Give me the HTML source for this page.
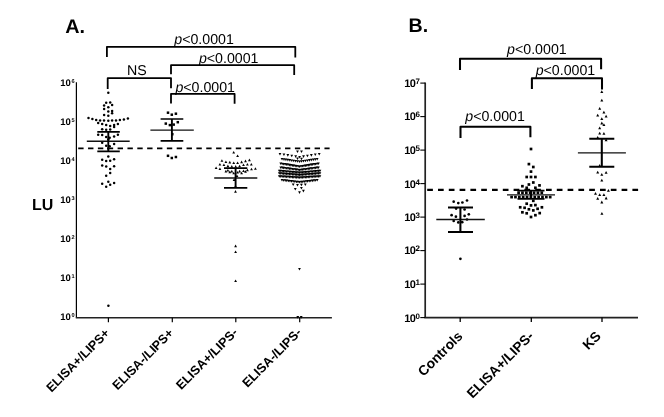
<!DOCTYPE html>
<html><head><meta charset="utf-8"><title>Figure</title>
<style>html,body{margin:0;padding:0;background:#fff}svg{display:block}text{font-family:"Liberation Sans",Arial,sans-serif;fill:#000;text-rendering:geometricPrecision}</style></head><body>
<svg width="664" height="417" viewBox="0 0 664 417">
<rect width="664" height="417" fill="#fff"/>
<text x="65.2" y="33.1" font-size="19.8" font-weight="bold">A.</text>
<text x="408.5" y="31.8" font-size="19.6" font-weight="bold">B.</text>
<text x="31.9" y="210" font-size="16" font-weight="bold">LU</text>
<path d="M106.9,56.9V46.85H295.3V57.6" fill="none" stroke="#000" stroke-width="1.8" stroke-linejoin="round"/>
<path d="M171,74.3V65.2H294.2V75.1" fill="none" stroke="#000" stroke-width="1.8" stroke-linejoin="round"/>
<path d="M107.7,89V78.1H171V88.2" fill="none" stroke="#000" stroke-width="1.8" stroke-linejoin="round"/>
<path d="M171,103.5V93.85H234.6V103.7" fill="none" stroke="#000" stroke-width="1.8" stroke-linejoin="round"/>
<path d="M460,69.9V58.75H601.1V69.2" fill="none" stroke="#000" stroke-width="2.05" stroke-linejoin="round"/>
<path d="M531.9,89V78.3H602V89.6" fill="none" stroke="#000" stroke-width="2.05" stroke-linejoin="round"/>
<path d="M460.5,138V126.7H530.4V137.3" fill="none" stroke="#000" stroke-width="2.05" stroke-linejoin="round"/>
<text x="174.3" y="44" font-size="14.2"><tspan font-style="italic">p</tspan>&lt;0.0001</text>
<text x="198.9" y="63" font-size="14.2"><tspan font-style="italic">p</tspan>&lt;0.0001</text>
<text x="175.4" y="92" font-size="14.2"><tspan font-style="italic">p</tspan>&lt;0.0001</text>
<text x="507.1" y="54" font-size="14.2"><tspan font-style="italic">p</tspan>&lt;0.0001</text>
<text x="535.7" y="75" font-size="14.2"><tspan font-style="italic">p</tspan>&lt;0.0001</text>
<text x="465.3" y="121" font-size="14.2"><tspan font-style="italic">p</tspan>&lt;0.0001</text>
<text x="127.1" y="75" font-size="14.2">NS</text>
<path d="M76.4,82.3V317.7" stroke="#000" stroke-width="1.2" fill="none"/>
<path d="M75.8,317.85H331.9" stroke="#222" stroke-width="1.5" fill="none"/>
<path d="M108.4,317.7V322.2" stroke="#000" stroke-width="1.2"/>
<path d="M172.3,317.7V322.2" stroke="#000" stroke-width="1.2"/>
<path d="M235.8,317.7V322.2" stroke="#000" stroke-width="1.2"/>
<path d="M299.7,317.7V322.2" stroke="#000" stroke-width="1.2"/>
<text x="60.3" y="86" font-size="9.5" font-weight="bold">10<tspan font-size="5.6" dx="0.5" dy="-2.6">6</tspan></text>
<text x="60.3" y="125" font-size="9.5" font-weight="bold">10<tspan font-size="5.6" dx="0.5" dy="-2.6">5</tspan></text>
<text x="60.3" y="164" font-size="9.5" font-weight="bold">10<tspan font-size="5.6" dx="0.5" dy="-2.6">4</tspan></text>
<text x="60.3" y="203" font-size="9.5" font-weight="bold">10<tspan font-size="5.6" dx="0.5" dy="-2.6">3</tspan></text>
<text x="60.3" y="242" font-size="9.5" font-weight="bold">10<tspan font-size="5.6" dx="0.5" dy="-2.6">2</tspan></text>
<text x="60.3" y="281" font-size="9.5" font-weight="bold">10<tspan font-size="5.6" dx="0.5" dy="-2.6">1</tspan></text>
<text x="60.3" y="320" font-size="9.5" font-weight="bold">10<tspan font-size="5.6" dx="0.5" dy="-2.6">0</tspan></text>
<path d="M425.2,82.5V317.6" stroke="#222" stroke-width="1.7" fill="none"/>
<path d="M424.4,317.6H638" stroke="#222" stroke-width="1.7" fill="none"/>
<path d="M460.2,317.6V321.9" stroke="#000" stroke-width="1.3"/>
<path d="M531.3,317.6V321.9" stroke="#000" stroke-width="1.3"/>
<path d="M602,317.6V321.9" stroke="#000" stroke-width="1.3"/>
<path d="M420.3,83.1H425.2" stroke="#000" stroke-width="1.1"/>
<text x="404.2" y="87" font-size="11" font-weight="bold" letter-spacing="-0.6">10<tspan font-size="8" dx="0.2" dy="-3.2">7</tspan></text>
<path d="M420.3,116.6H425.2" stroke="#000" stroke-width="1.1"/>
<text x="404.2" y="120" font-size="11" font-weight="bold" letter-spacing="-0.6">10<tspan font-size="8" dx="0.2" dy="-3.2">6</tspan></text>
<path d="M420.3,150.1H425.2" stroke="#000" stroke-width="1.1"/>
<text x="404.2" y="154" font-size="11" font-weight="bold" letter-spacing="-0.6">10<tspan font-size="8" dx="0.2" dy="-3.2">5</tspan></text>
<path d="M420.3,183.6H425.2" stroke="#000" stroke-width="1.1"/>
<text x="404.2" y="188" font-size="11" font-weight="bold" letter-spacing="-0.6">10<tspan font-size="8" dx="0.2" dy="-3.2">4</tspan></text>
<path d="M420.3,217.1H425.2" stroke="#000" stroke-width="1.1"/>
<text x="404.2" y="221" font-size="11" font-weight="bold" letter-spacing="-0.6">10<tspan font-size="8" dx="0.2" dy="-3.2">3</tspan></text>
<path d="M420.3,250.6H425.2" stroke="#000" stroke-width="1.1"/>
<text x="404.2" y="254" font-size="11" font-weight="bold" letter-spacing="-0.6">10<tspan font-size="8" dx="0.2" dy="-3.2">2</tspan></text>
<path d="M420.3,284.1H425.2" stroke="#000" stroke-width="1.1"/>
<text x="404.2" y="288" font-size="11" font-weight="bold" letter-spacing="-0.6">10<tspan font-size="8" dx="0.2" dy="-3.2">1</tspan></text>
<path d="M420.3,317.6H425.2" stroke="#000" stroke-width="1.1"/>
<text x="404.2" y="322" font-size="11" font-weight="bold" letter-spacing="-0.6">10<tspan font-size="8" dx="0.2" dy="-3.2">0</tspan></text>
<path d="M78.2,148.4H329.6" stroke="#000" stroke-width="1.9" stroke-dasharray="5.4 4.45" fill="none"/>
<path d="M427.2,189.9H638.6" stroke="#000" stroke-width="2.3" stroke-dasharray="5.7 5.1" fill="none"/>
<g fill="#000">
<circle cx="108.3" cy="92.8" r="1.25"/>
<circle cx="106.2" cy="102.7" r="1.25"/>
<circle cx="110.2" cy="102.5" r="1.25"/>
<circle cx="104.1" cy="105.6" r="1.25"/>
<circle cx="112.1" cy="105.1" r="1.25"/>
<circle cx="108.3" cy="107.3" r="1.25"/>
<circle cx="104.1" cy="109" r="1.25"/>
<circle cx="108.3" cy="111.4" r="1.25"/>
<circle cx="112.1" cy="110.9" r="1.25"/>
<circle cx="112.1" cy="113.3" r="1.25"/>
<circle cx="104.1" cy="115.1" r="1.25"/>
<circle cx="108.3" cy="115.7" r="1.25"/>
<circle cx="88.5" cy="118.1" r="1.25"/>
<circle cx="92.4" cy="119.1" r="1.25"/>
<circle cx="96.2" cy="120.1" r="1.25"/>
<circle cx="100.1" cy="120.4" r="1.25"/>
<circle cx="104" cy="120.6" r="1.25"/>
<circle cx="108.3" cy="120.8" r="1.25"/>
<circle cx="112.1" cy="120.6" r="1.25"/>
<circle cx="116" cy="120.4" r="1.25"/>
<circle cx="119.9" cy="120.1" r="1.25"/>
<circle cx="123.9" cy="119.4" r="1.25"/>
<circle cx="127.9" cy="118.4" r="1.25"/>
<circle cx="98.2" cy="123.1" r="1.25"/>
<circle cx="102.2" cy="124" r="1.25"/>
<circle cx="106.2" cy="125" r="1.25"/>
<circle cx="110.2" cy="126" r="1.25"/>
<circle cx="114.1" cy="125" r="1.25"/>
<circle cx="117.9" cy="124" r="1.25"/>
<circle cx="114.1" cy="126.9" r="1.25"/>
<circle cx="102.2" cy="129.2" r="1.25"/>
<circle cx="106.2" cy="129.8" r="1.25"/>
<circle cx="110.2" cy="129.6" r="1.25"/>
<circle cx="98.2" cy="134.8" r="1.25"/>
<circle cx="102.2" cy="135.1" r="1.25"/>
<circle cx="106.2" cy="136.9" r="1.25"/>
<circle cx="109.7" cy="137.8" r="1.25"/>
<circle cx="114.1" cy="136.6" r="1.25"/>
<circle cx="117.9" cy="134.8" r="1.25"/>
<circle cx="102.2" cy="142.8" r="1.25"/>
<circle cx="114.1" cy="144" r="1.25"/>
<circle cx="106.2" cy="145.7" r="1.25"/>
<circle cx="109.7" cy="146.2" r="1.25"/>
<circle cx="108.3" cy="139.5" r="1.25"/>
<circle cx="108.3" cy="148.5" r="1.25"/>
<circle cx="108.3" cy="156.5" r="1.25"/>
<circle cx="102.2" cy="159.8" r="1.25"/>
<circle cx="106.2" cy="161.1" r="1.25"/>
<circle cx="110.2" cy="160.8" r="1.25"/>
<circle cx="114.1" cy="159.2" r="1.25"/>
<circle cx="102.2" cy="165.6" r="1.25"/>
<circle cx="106.2" cy="166.6" r="1.25"/>
<circle cx="114.1" cy="166.3" r="1.25"/>
<circle cx="110.2" cy="169" r="1.25"/>
<circle cx="110.2" cy="173" r="1.25"/>
<circle cx="106.2" cy="175.7" r="1.25"/>
<circle cx="108.3" cy="181.7" r="1.25"/>
<circle cx="102.2" cy="183.8" r="1.25"/>
<circle cx="114.1" cy="183.1" r="1.25"/>
<circle cx="110.2" cy="184.8" r="1.25"/>
<circle cx="106.2" cy="186.7" r="1.25"/>
<circle cx="108.4" cy="305.8" r="1.25"/>
</g>
<path d="M86.8,141.2H129.7" stroke="#111" stroke-width="1.45"/>
<path d="M97.3,131.9H119.8M97.3,151.3H119.8" stroke="#000" stroke-width="1.7" fill="none"/>
<path d="M108.3,131.9V151.3" stroke="#000" stroke-width="1.9" fill="none"/>
<g fill="#000">
<rect x="166.75" y="111.45" width="2.5" height="2.5"/>
<rect x="170.55" y="113.45" width="2.5" height="2.5"/>
<rect x="174.65" y="112.45" width="2.5" height="2.5"/>
<rect x="164.55" y="122.35" width="2.5" height="2.5"/>
<rect x="176.55" y="120.95" width="2.5" height="2.5"/>
<rect x="168.65" y="123.85" width="2.5" height="2.5"/>
<rect x="172.45" y="123.35" width="2.5" height="2.5"/>
<rect x="171.05" y="132.95" width="2.5" height="2.5"/>
<rect x="166.75" y="154.55" width="2.5" height="2.5"/>
<rect x="170.55" y="156.75" width="2.5" height="2.5"/>
<rect x="174.65" y="155.75" width="2.5" height="2.5"/>
</g>
<path d="M150.4,130.1H193.8" stroke="#111" stroke-width="1.45"/>
<path d="M160.6,119H183.3M160.6,140.8H183.3" stroke="#000" stroke-width="1.7" fill="none"/>
<path d="M171.9,119V140.8" stroke="#000" stroke-width="1.9" fill="none"/>
<g fill="#000">
<path d="M232.30,153.60h2.8l-1.40,-2.6z"/>
<path d="M236.20,157.10h2.8l-1.40,-2.6z"/>
<path d="M220.50,161.80h2.8l-1.40,-2.6z"/>
<path d="M224.50,163.00h2.8l-1.40,-2.6z"/>
<path d="M228.40,163.40h2.8l-1.40,-2.6z"/>
<path d="M232.30,164.00h2.8l-1.40,-2.6z"/>
<path d="M236.20,164.00h2.8l-1.40,-2.6z"/>
<path d="M240.20,163.20h2.8l-1.40,-2.6z"/>
<path d="M244.10,162.20h2.8l-1.40,-2.6z"/>
<path d="M248.00,161.20h2.8l-1.40,-2.6z"/>
<path d="M218.50,165.60h2.8l-1.40,-2.6z"/>
<path d="M222.50,166.00h2.8l-1.40,-2.6z"/>
<path d="M226.50,167.20h2.8l-1.40,-2.6z"/>
<path d="M230.40,167.70h2.8l-1.40,-2.6z"/>
<path d="M234.30,167.70h2.8l-1.40,-2.6z"/>
<path d="M238.20,167.30h2.8l-1.40,-2.6z"/>
<path d="M242.10,166.10h2.8l-1.40,-2.6z"/>
<path d="M246.00,165.60h2.8l-1.40,-2.6z"/>
<path d="M249.90,165.60h2.8l-1.40,-2.6z"/>
<path d="M214.70,169.10h2.8l-1.40,-2.6z"/>
<path d="M218.50,170.10h2.8l-1.40,-2.6z"/>
<path d="M250.10,170.30h2.8l-1.40,-2.6z"/>
<path d="M254.00,169.80h2.8l-1.40,-2.6z"/>
<path d="M224.50,172.40h2.8l-1.40,-2.6z"/>
<path d="M228.40,173.20h2.8l-1.40,-2.6z"/>
<path d="M230.40,172.40h2.8l-1.40,-2.6z"/>
<path d="M232.30,174.30h2.8l-1.40,-2.6z"/>
<path d="M238.20,172.40h2.8l-1.40,-2.6z"/>
<path d="M240.20,174.30h2.8l-1.40,-2.6z"/>
<path d="M242.10,172.00h2.8l-1.40,-2.6z"/>
<path d="M244.10,172.80h2.8l-1.40,-2.6z"/>
<path d="M246.00,171.20h2.8l-1.40,-2.6z"/>
<path d="M226.50,171.60h2.8l-1.40,-2.6z"/>
<path d="M236.20,173.50h2.8l-1.40,-2.6z"/>
<path d="M235.60,177.10h2.8l-1.40,-2.6z"/>
<path d="M232.70,180.90h2.8l-1.40,-2.6z"/>
<path d="M234.10,187.60h2.8l-1.40,-2.6z"/>
<path d="M234.10,192.70h2.8l-1.40,-2.6z"/>
<path d="M234.20,247.20h2.8l-1.40,-2.6z"/>
<path d="M234.20,253.00h2.8l-1.40,-2.6z"/>
<path d="M234.20,282.00h2.8l-1.40,-2.6z"/>
</g>
<path d="M214.2,178H257.3" stroke="#111" stroke-width="1.45"/>
<path d="M224,168.2H247.3M224,187.8H247.3" stroke="#000" stroke-width="1.7" fill="none"/>
<path d="M235.6,168.2V187.8" stroke="#000" stroke-width="1.9" fill="none"/>
<g fill="#000">
<path d="M296.10,150.50h2.8l-1.40,2.6z"/>
<path d="M300.10,150.50h2.8l-1.40,2.6z"/>
<path d="M296.10,157.40h2.8l-1.40,2.6z"/>
<path d="M300.10,157.70h2.8l-1.40,2.6z"/>
<path d="M278.60,152.90h2.8l-1.40,2.6z"/>
<path d="M282.52,153.50h2.8l-1.40,2.6z"/>
<path d="M286.44,154.10h2.8l-1.40,2.6z"/>
<path d="M290.36,154.70h2.8l-1.40,2.6z"/>
<path d="M294.28,155.30h2.8l-1.40,2.6z"/>
<path d="M298.20,155.90h2.8l-1.40,2.6z"/>
<path d="M302.12,155.30h2.8l-1.40,2.6z"/>
<path d="M306.04,154.70h2.8l-1.40,2.6z"/>
<path d="M309.96,154.10h2.8l-1.40,2.6z"/>
<path d="M313.88,153.50h2.8l-1.40,2.6z"/>
<path d="M317.80,152.90h2.8l-1.40,2.6z"/>
<path d="M280.65,158.00h2.8l-1.40,2.6z"/>
<path d="M282.60,158.28h2.8l-1.40,2.6z"/>
<path d="M284.55,158.56h2.8l-1.40,2.6z"/>
<path d="M286.50,158.83h2.8l-1.40,2.6z"/>
<path d="M288.45,159.11h2.8l-1.40,2.6z"/>
<path d="M290.40,159.39h2.8l-1.40,2.6z"/>
<path d="M292.35,159.67h2.8l-1.40,2.6z"/>
<path d="M294.30,159.94h2.8l-1.40,2.6z"/>
<path d="M296.25,160.22h2.8l-1.40,2.6z"/>
<path d="M298.20,160.50h2.8l-1.40,2.6z"/>
<path d="M300.15,160.22h2.8l-1.40,2.6z"/>
<path d="M302.10,159.94h2.8l-1.40,2.6z"/>
<path d="M304.05,159.67h2.8l-1.40,2.6z"/>
<path d="M306.00,159.39h2.8l-1.40,2.6z"/>
<path d="M307.95,159.11h2.8l-1.40,2.6z"/>
<path d="M309.90,158.83h2.8l-1.40,2.6z"/>
<path d="M311.85,158.56h2.8l-1.40,2.6z"/>
<path d="M313.80,158.28h2.8l-1.40,2.6z"/>
<path d="M315.75,158.00h2.8l-1.40,2.6z"/>
<path d="M279.35,162.40h2.8l-1.40,2.6z"/>
<path d="M280.80,162.64h2.8l-1.40,2.6z"/>
<path d="M282.25,162.88h2.8l-1.40,2.6z"/>
<path d="M283.70,163.12h2.8l-1.40,2.6z"/>
<path d="M285.15,163.35h2.8l-1.40,2.6z"/>
<path d="M286.60,163.59h2.8l-1.40,2.6z"/>
<path d="M288.05,163.83h2.8l-1.40,2.6z"/>
<path d="M289.50,164.07h2.8l-1.40,2.6z"/>
<path d="M290.95,164.31h2.8l-1.40,2.6z"/>
<path d="M292.40,164.55h2.8l-1.40,2.6z"/>
<path d="M293.85,164.78h2.8l-1.40,2.6z"/>
<path d="M295.30,165.02h2.8l-1.40,2.6z"/>
<path d="M296.75,165.26h2.8l-1.40,2.6z"/>
<path d="M298.20,165.50h2.8l-1.40,2.6z"/>
<path d="M299.65,165.26h2.8l-1.40,2.6z"/>
<path d="M301.10,165.02h2.8l-1.40,2.6z"/>
<path d="M302.55,164.78h2.8l-1.40,2.6z"/>
<path d="M304.00,164.55h2.8l-1.40,2.6z"/>
<path d="M305.45,164.31h2.8l-1.40,2.6z"/>
<path d="M306.90,164.07h2.8l-1.40,2.6z"/>
<path d="M308.35,163.83h2.8l-1.40,2.6z"/>
<path d="M309.80,163.59h2.8l-1.40,2.6z"/>
<path d="M311.25,163.35h2.8l-1.40,2.6z"/>
<path d="M312.70,163.12h2.8l-1.40,2.6z"/>
<path d="M314.15,162.88h2.8l-1.40,2.6z"/>
<path d="M315.60,162.64h2.8l-1.40,2.6z"/>
<path d="M317.05,162.40h2.8l-1.40,2.6z"/>
<path d="M279.35,166.40h2.8l-1.40,2.6z"/>
<path d="M280.80,166.59h2.8l-1.40,2.6z"/>
<path d="M282.25,166.78h2.8l-1.40,2.6z"/>
<path d="M283.70,166.98h2.8l-1.40,2.6z"/>
<path d="M285.15,167.17h2.8l-1.40,2.6z"/>
<path d="M286.60,167.36h2.8l-1.40,2.6z"/>
<path d="M288.05,167.55h2.8l-1.40,2.6z"/>
<path d="M289.50,167.75h2.8l-1.40,2.6z"/>
<path d="M290.95,167.94h2.8l-1.40,2.6z"/>
<path d="M292.40,168.13h2.8l-1.40,2.6z"/>
<path d="M293.85,168.32h2.8l-1.40,2.6z"/>
<path d="M295.30,168.52h2.8l-1.40,2.6z"/>
<path d="M296.75,168.71h2.8l-1.40,2.6z"/>
<path d="M298.20,168.90h2.8l-1.40,2.6z"/>
<path d="M299.65,168.71h2.8l-1.40,2.6z"/>
<path d="M301.10,168.52h2.8l-1.40,2.6z"/>
<path d="M302.55,168.32h2.8l-1.40,2.6z"/>
<path d="M304.00,168.13h2.8l-1.40,2.6z"/>
<path d="M305.45,167.94h2.8l-1.40,2.6z"/>
<path d="M306.90,167.75h2.8l-1.40,2.6z"/>
<path d="M308.35,167.55h2.8l-1.40,2.6z"/>
<path d="M309.80,167.36h2.8l-1.40,2.6z"/>
<path d="M311.25,167.17h2.8l-1.40,2.6z"/>
<path d="M312.70,166.98h2.8l-1.40,2.6z"/>
<path d="M314.15,166.78h2.8l-1.40,2.6z"/>
<path d="M315.60,166.59h2.8l-1.40,2.6z"/>
<path d="M317.05,166.40h2.8l-1.40,2.6z"/>
<path d="M277.90,169.70h2.8l-1.40,2.6z"/>
<path d="M279.35,169.84h2.8l-1.40,2.6z"/>
<path d="M280.80,169.97h2.8l-1.40,2.6z"/>
<path d="M282.25,170.11h2.8l-1.40,2.6z"/>
<path d="M283.70,170.24h2.8l-1.40,2.6z"/>
<path d="M285.15,170.38h2.8l-1.40,2.6z"/>
<path d="M286.60,170.51h2.8l-1.40,2.6z"/>
<path d="M288.05,170.65h2.8l-1.40,2.6z"/>
<path d="M289.50,170.79h2.8l-1.40,2.6z"/>
<path d="M290.95,170.92h2.8l-1.40,2.6z"/>
<path d="M292.40,171.06h2.8l-1.40,2.6z"/>
<path d="M293.85,171.19h2.8l-1.40,2.6z"/>
<path d="M295.30,171.33h2.8l-1.40,2.6z"/>
<path d="M296.75,171.46h2.8l-1.40,2.6z"/>
<path d="M298.20,171.60h2.8l-1.40,2.6z"/>
<path d="M299.65,171.46h2.8l-1.40,2.6z"/>
<path d="M301.10,171.33h2.8l-1.40,2.6z"/>
<path d="M302.55,171.19h2.8l-1.40,2.6z"/>
<path d="M304.00,171.06h2.8l-1.40,2.6z"/>
<path d="M305.45,170.92h2.8l-1.40,2.6z"/>
<path d="M306.90,170.79h2.8l-1.40,2.6z"/>
<path d="M308.35,170.65h2.8l-1.40,2.6z"/>
<path d="M309.80,170.51h2.8l-1.40,2.6z"/>
<path d="M311.25,170.38h2.8l-1.40,2.6z"/>
<path d="M312.70,170.24h2.8l-1.40,2.6z"/>
<path d="M314.15,170.11h2.8l-1.40,2.6z"/>
<path d="M315.60,169.97h2.8l-1.40,2.6z"/>
<path d="M317.05,169.84h2.8l-1.40,2.6z"/>
<path d="M318.50,169.70h2.8l-1.40,2.6z"/>
<path d="M277.90,172.20h2.8l-1.40,2.6z"/>
<path d="M279.35,172.32h2.8l-1.40,2.6z"/>
<path d="M280.80,172.44h2.8l-1.40,2.6z"/>
<path d="M282.25,172.56h2.8l-1.40,2.6z"/>
<path d="M283.70,172.69h2.8l-1.40,2.6z"/>
<path d="M285.15,172.81h2.8l-1.40,2.6z"/>
<path d="M286.60,172.93h2.8l-1.40,2.6z"/>
<path d="M288.05,173.05h2.8l-1.40,2.6z"/>
<path d="M289.50,173.17h2.8l-1.40,2.6z"/>
<path d="M290.95,173.29h2.8l-1.40,2.6z"/>
<path d="M292.40,173.41h2.8l-1.40,2.6z"/>
<path d="M293.85,173.54h2.8l-1.40,2.6z"/>
<path d="M295.30,173.66h2.8l-1.40,2.6z"/>
<path d="M296.75,173.78h2.8l-1.40,2.6z"/>
<path d="M298.20,173.90h2.8l-1.40,2.6z"/>
<path d="M299.65,173.78h2.8l-1.40,2.6z"/>
<path d="M301.10,173.66h2.8l-1.40,2.6z"/>
<path d="M302.55,173.54h2.8l-1.40,2.6z"/>
<path d="M304.00,173.41h2.8l-1.40,2.6z"/>
<path d="M305.45,173.29h2.8l-1.40,2.6z"/>
<path d="M306.90,173.17h2.8l-1.40,2.6z"/>
<path d="M308.35,173.05h2.8l-1.40,2.6z"/>
<path d="M309.80,172.93h2.8l-1.40,2.6z"/>
<path d="M311.25,172.81h2.8l-1.40,2.6z"/>
<path d="M312.70,172.69h2.8l-1.40,2.6z"/>
<path d="M314.15,172.56h2.8l-1.40,2.6z"/>
<path d="M315.60,172.44h2.8l-1.40,2.6z"/>
<path d="M317.05,172.32h2.8l-1.40,2.6z"/>
<path d="M318.50,172.20h2.8l-1.40,2.6z"/>
<path d="M277.90,175.20h2.8l-1.40,2.6z"/>
<path d="M279.35,175.29h2.8l-1.40,2.6z"/>
<path d="M280.80,175.39h2.8l-1.40,2.6z"/>
<path d="M282.25,175.48h2.8l-1.40,2.6z"/>
<path d="M283.70,175.57h2.8l-1.40,2.6z"/>
<path d="M285.15,175.66h2.8l-1.40,2.6z"/>
<path d="M286.60,175.76h2.8l-1.40,2.6z"/>
<path d="M288.05,175.85h2.8l-1.40,2.6z"/>
<path d="M289.50,175.94h2.8l-1.40,2.6z"/>
<path d="M290.95,176.04h2.8l-1.40,2.6z"/>
<path d="M292.40,176.13h2.8l-1.40,2.6z"/>
<path d="M293.85,176.22h2.8l-1.40,2.6z"/>
<path d="M295.30,176.31h2.8l-1.40,2.6z"/>
<path d="M296.75,176.41h2.8l-1.40,2.6z"/>
<path d="M298.20,176.50h2.8l-1.40,2.6z"/>
<path d="M299.65,176.41h2.8l-1.40,2.6z"/>
<path d="M301.10,176.31h2.8l-1.40,2.6z"/>
<path d="M302.55,176.22h2.8l-1.40,2.6z"/>
<path d="M304.00,176.13h2.8l-1.40,2.6z"/>
<path d="M305.45,176.04h2.8l-1.40,2.6z"/>
<path d="M306.90,175.94h2.8l-1.40,2.6z"/>
<path d="M308.35,175.85h2.8l-1.40,2.6z"/>
<path d="M309.80,175.76h2.8l-1.40,2.6z"/>
<path d="M311.25,175.66h2.8l-1.40,2.6z"/>
<path d="M312.70,175.57h2.8l-1.40,2.6z"/>
<path d="M314.15,175.48h2.8l-1.40,2.6z"/>
<path d="M315.60,175.39h2.8l-1.40,2.6z"/>
<path d="M317.05,175.29h2.8l-1.40,2.6z"/>
<path d="M318.50,175.20h2.8l-1.40,2.6z"/>
<path d="M280.60,179.00h2.8l-1.40,2.6z"/>
<path d="M282.20,179.18h2.8l-1.40,2.6z"/>
<path d="M283.80,179.36h2.8l-1.40,2.6z"/>
<path d="M285.40,179.55h2.8l-1.40,2.6z"/>
<path d="M287.00,179.73h2.8l-1.40,2.6z"/>
<path d="M288.60,179.91h2.8l-1.40,2.6z"/>
<path d="M290.20,180.09h2.8l-1.40,2.6z"/>
<path d="M291.80,180.27h2.8l-1.40,2.6z"/>
<path d="M293.40,180.45h2.8l-1.40,2.6z"/>
<path d="M295.00,180.64h2.8l-1.40,2.6z"/>
<path d="M296.60,180.82h2.8l-1.40,2.6z"/>
<path d="M298.20,181.00h2.8l-1.40,2.6z"/>
<path d="M299.80,180.82h2.8l-1.40,2.6z"/>
<path d="M301.40,180.64h2.8l-1.40,2.6z"/>
<path d="M303.00,180.45h2.8l-1.40,2.6z"/>
<path d="M304.60,180.27h2.8l-1.40,2.6z"/>
<path d="M306.20,180.09h2.8l-1.40,2.6z"/>
<path d="M307.80,179.91h2.8l-1.40,2.6z"/>
<path d="M309.40,179.73h2.8l-1.40,2.6z"/>
<path d="M311.00,179.55h2.8l-1.40,2.6z"/>
<path d="M312.60,179.36h2.8l-1.40,2.6z"/>
<path d="M314.20,179.18h2.8l-1.40,2.6z"/>
<path d="M315.80,179.00h2.8l-1.40,2.6z"/>
<path d="M291.80,183.50h2.8l-1.40,2.6z"/>
<path d="M296.10,183.90h2.8l-1.40,2.6z"/>
<path d="M303.90,183.50h2.8l-1.40,2.6z"/>
<path d="M300.00,183.70h2.8l-1.40,2.6z"/>
<path d="M300.00,187.00h2.8l-1.40,2.6z"/>
<path d="M293.90,188.00h2.8l-1.40,2.6z"/>
<path d="M302.00,189.80h2.8l-1.40,2.6z"/>
<path d="M298.10,191.30h2.8l-1.40,2.6z"/>
<path d="M298.10,268.00h2.8l-1.40,2.6z"/>
<path d="M296.40,316.10h2.8l-1.40,2.6z"/>
<path d="M299.80,316.10h2.8l-1.40,2.6z"/>
</g>
<g fill="#000">
<circle cx="453.7" cy="201.7" r="1.35"/>
<circle cx="458.3" cy="203.1" r="1.35"/>
<circle cx="462.4" cy="202.5" r="1.35"/>
<circle cx="467" cy="200.5" r="1.35"/>
<circle cx="456.1" cy="208.6" r="1.35"/>
<circle cx="464.6" cy="209.5" r="1.35"/>
<circle cx="451.6" cy="215.2" r="1.35"/>
<circle cx="455.9" cy="216.7" r="1.35"/>
<circle cx="464.6" cy="215.9" r="1.35"/>
<circle cx="468.8" cy="214.3" r="1.35"/>
<circle cx="453.7" cy="221" r="1.35"/>
<circle cx="467" cy="219.5" r="1.35"/>
<circle cx="458.3" cy="222.4" r="1.35"/>
<circle cx="462.2" cy="222.2" r="1.35"/>
<circle cx="460.4" cy="258.8" r="1.35"/>
</g>
<path d="M436.3,219.5H484.8" stroke="#111" stroke-width="1.35"/>
<path d="M448,207.5H473M448,232H473" stroke="#000" stroke-width="1.9" fill="none"/>
<path d="M460.4,207.5V232" stroke="#000" stroke-width="2.05" fill="none"/>
<g fill="#000">
<rect x="529.65" y="147.65" width="2.7" height="2.7"/>
<rect x="527.55" y="162.75" width="2.7" height="2.7"/>
<rect x="531.95" y="165.65" width="2.7" height="2.7"/>
<rect x="529.65" y="170.25" width="2.7" height="2.7"/>
<rect x="525.35" y="175.65" width="2.7" height="2.7"/>
<rect x="529.65" y="175.65" width="2.7" height="2.7"/>
<rect x="534.05" y="175.65" width="2.7" height="2.7"/>
<rect x="527.55" y="183.15" width="2.7" height="2.7"/>
<rect x="531.95" y="181.15" width="2.7" height="2.7"/>
<rect x="521.05" y="184.85" width="2.7" height="2.7"/>
<rect x="538.15" y="184.05" width="2.7" height="2.7"/>
<rect x="525.35" y="186.45" width="2.7" height="2.7"/>
<rect x="534.05" y="186.45" width="2.7" height="2.7"/>
<rect x="517.25" y="191.35" width="2.7" height="2.7"/>
<rect x="521.11" y="191.35" width="2.7" height="2.7"/>
<rect x="524.97" y="191.35" width="2.7" height="2.7"/>
<rect x="528.83" y="191.35" width="2.7" height="2.7"/>
<rect x="532.69" y="191.35" width="2.7" height="2.7"/>
<rect x="536.55" y="191.35" width="2.7" height="2.7"/>
<rect x="540.41" y="191.35" width="2.7" height="2.7"/>
<rect x="510.25" y="195.75" width="2.7" height="2.7"/>
<rect x="514.11" y="195.75" width="2.7" height="2.7"/>
<rect x="517.97" y="195.75" width="2.7" height="2.7"/>
<rect x="521.83" y="195.75" width="2.7" height="2.7"/>
<rect x="525.69" y="195.75" width="2.7" height="2.7"/>
<rect x="529.55" y="195.75" width="2.7" height="2.7"/>
<rect x="533.41" y="195.75" width="2.7" height="2.7"/>
<rect x="537.27" y="195.75" width="2.7" height="2.7"/>
<rect x="541.13" y="195.75" width="2.7" height="2.7"/>
<rect x="544.99" y="195.75" width="2.7" height="2.7"/>
<rect x="548.85" y="195.75" width="2.7" height="2.7"/>
<rect x="531.95" y="199.45" width="2.7" height="2.7"/>
<rect x="525.35" y="202.35" width="2.7" height="2.7"/>
<rect x="529.65" y="204.05" width="2.7" height="2.7"/>
<rect x="534.05" y="203.75" width="2.7" height="2.7"/>
<rect x="518.85" y="205.95" width="2.7" height="2.7"/>
<rect x="523.25" y="206.45" width="2.7" height="2.7"/>
<rect x="540.55" y="205.95" width="2.7" height="2.7"/>
<rect x="527.55" y="207.95" width="2.7" height="2.7"/>
<rect x="536.25" y="207.45" width="2.7" height="2.7"/>
<rect x="531.95" y="209.05" width="2.7" height="2.7"/>
<rect x="521.05" y="210.95" width="2.7" height="2.7"/>
<rect x="525.35" y="211.95" width="2.7" height="2.7"/>
<rect x="538.35" y="211.75" width="2.7" height="2.7"/>
<rect x="534.05" y="213.85" width="2.7" height="2.7"/>
<rect x="529.65" y="215.65" width="2.7" height="2.7"/>
</g>
<path d="M507,194.8H555" stroke="#111" stroke-width="1.35"/>
<path d="M517.5,190.6H544.5M517.5,198.9H544.5" stroke="#000" stroke-width="1.9" fill="none"/>
<path d="M531,190.6V198.9" stroke="#000" stroke-width="2.05" fill="none"/>
<g fill="#000">
<path d="M600.30,93.00h3.0l-1.50,-2.8z"/>
<path d="M600.30,101.60h3.0l-1.50,-2.8z"/>
<path d="M598.20,109.80h3.0l-1.50,-2.8z"/>
<path d="M602.40,113.60h3.0l-1.50,-2.8z"/>
<path d="M596.20,116.50h3.0l-1.50,-2.8z"/>
<path d="M604.60,117.60h3.0l-1.50,-2.8z"/>
<path d="M600.30,120.10h3.0l-1.50,-2.8z"/>
<path d="M600.30,124.40h3.0l-1.50,-2.8z"/>
<path d="M602.40,126.10h3.0l-1.50,-2.8z"/>
<path d="M598.20,129.20h3.0l-1.50,-2.8z"/>
<path d="M598.20,134.50h3.0l-1.50,-2.8z"/>
<path d="M602.40,134.80h3.0l-1.50,-2.8z"/>
<path d="M596.20,138.70h3.0l-1.50,-2.8z"/>
<path d="M604.60,141.30h3.0l-1.50,-2.8z"/>
<path d="M598.20,166.90h3.0l-1.50,-2.8z"/>
<path d="M596.20,173.60h3.0l-1.50,-2.8z"/>
<path d="M604.60,173.70h3.0l-1.50,-2.8z"/>
<path d="M600.30,175.80h3.0l-1.50,-2.8z"/>
<path d="M600.30,181.50h3.0l-1.50,-2.8z"/>
<path d="M606.90,191.80h3.0l-1.50,-2.8z"/>
<path d="M594.00,194.80h3.0l-1.50,-2.8z"/>
<path d="M598.20,196.00h3.0l-1.50,-2.8z"/>
<path d="M602.40,196.00h3.0l-1.50,-2.8z"/>
<path d="M596.20,199.80h3.0l-1.50,-2.8z"/>
<path d="M604.60,199.40h3.0l-1.50,-2.8z"/>
<path d="M600.30,203.40h3.0l-1.50,-2.8z"/>
<path d="M600.40,214.80h3.0l-1.50,-2.8z"/>
</g>
<path d="M577.9,152.8H625.9" stroke="#111" stroke-width="1.35"/>
<path d="M589.3,138.7H614.3M589.3,166.8H614.3" stroke="#000" stroke-width="1.9" fill="none"/>
<path d="M601.8,138.7V166.8" stroke="#000" stroke-width="2.05" fill="none"/>
<text transform="translate(110.3,333.8) rotate(-45)" text-anchor="end" font-size="12.6" font-weight="bold">ELISA+/LIPS+</text>
<text transform="translate(174.2,333.8) rotate(-45)" text-anchor="end" font-size="12.6" font-weight="bold">ELISA-/LIPS+</text>
<text transform="translate(238.4,333.2) rotate(-45)" text-anchor="end" font-size="12.7" font-weight="bold">ELISA+/LIPS-</text>
<text transform="translate(302.3,333.2) rotate(-45)" text-anchor="end" font-size="12.7" font-weight="bold">ELISA-/LIPS-</text>
<text transform="translate(463.5,337) rotate(-45)" text-anchor="end" font-size="13.8" font-weight="bold">Controls</text>
<text transform="translate(534.5,337) rotate(-45)" text-anchor="end" font-size="13.8" font-weight="bold">ELISA+/LIPS-</text>
<text transform="translate(601.8,337) rotate(-45)" text-anchor="end" font-size="13.8" font-weight="bold">KS</text>
</svg></body></html>
